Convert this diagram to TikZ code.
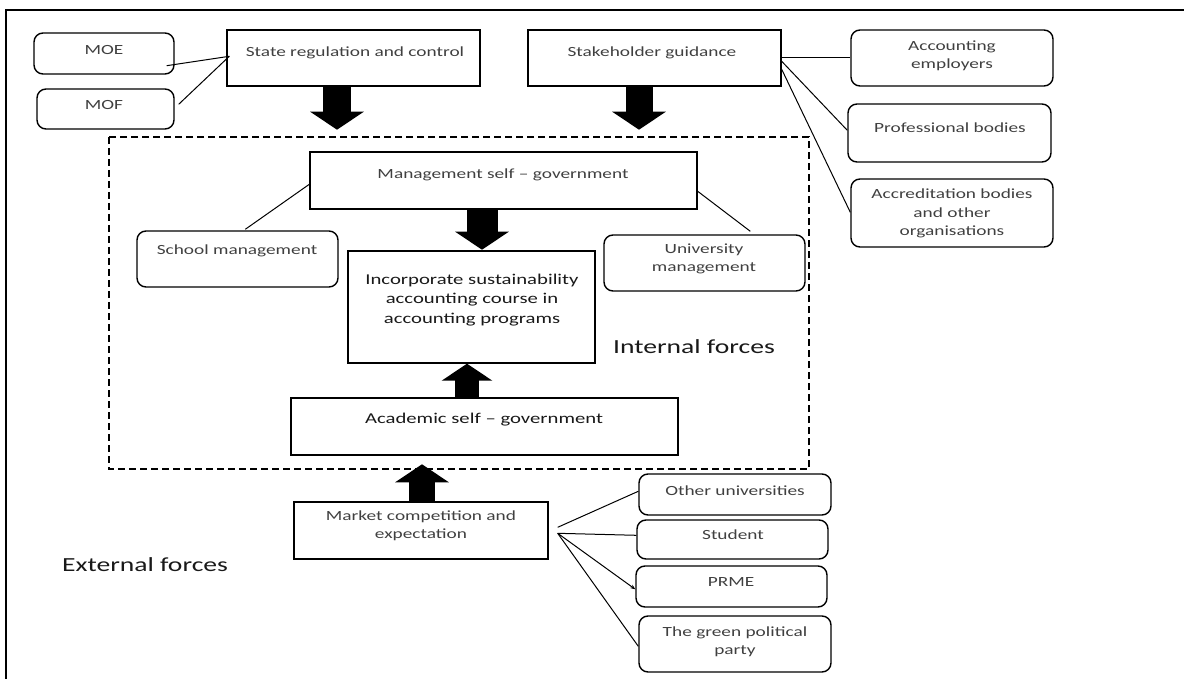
\documentclass[tikz,border=0pt]{standalone}
\usepackage{fontspec}
\setmainfont{Carlito}[FakeStretch=1.38]
\usetikzlibrary{arrows.meta,calc}
\begin{document}
\begin{tikzpicture}[x=1pt,y=-1pt,
  box/.style={draw, line width=1.4pt, inner sep=0pt},
  rbox/.style={box, rounded corners=9pt},
  txt/.style={font=\fontsize{14}{18}\selectfont, text=black!75, align=center, inner sep=0pt},
  mid/.style={font=\fontsize{15}{19.5}\selectfont, text=black!90, align=center, inner sep=0pt},
  big/.style={font=\fontsize{20}{24}\selectfont, text=black!90, inner sep=0pt},
  conn/.style={line width=1pt},
  barrow/.style={line width=#1, -{Triangle[width=53pt,length=18pt]}},
  dashbox/.style={draw, line width=1.2pt, dash pattern=on 7pt off 4pt}
]
\useasboundingbox (0,0) rectangle (1184,679);
% outer frame
\draw[line width=1.3pt] (1184,10) -- (6,10) -- (6,679);

% top left
\node[rbox, minimum width=140pt, minimum height=41pt] (moe) at (104,53.5) {};
\node[txt] (moet) at (104,50) {MOE};
\node[rbox, minimum width=137pt, minimum height=40pt] (mof) at (105.5,109) {};
\node[txt] (moft) at (104,105) {MOF};
\node[box, minimum width=253pt, minimum height=56pt] (state) at (353.5,58) {};
\node[txt] (statet) at (355,53) {State regulation and control};
\node[box, minimum width=253pt, minimum height=56pt] (stake) at (654.5,58) {};
\node[txt] (staket) at (652,53) {Stakeholder guidance};

% right
\node[rbox, minimum width=202pt, minimum height=56pt] (acc) at (952,58) {};
\node[txt] (acct) at (952,56) {Accounting\\employers};
\node[rbox, minimum width=203pt, minimum height=58pt] (prof) at (949.5,133) {};
\node[txt] (proft) at (950,128) {Professional bodies};
\node[rbox, minimum width=202pt, minimum height=68pt] (accr) at (952,213) {};
\node[txt, font=\fontsize{14}{18.5}\selectfont] (accrt) at (952,213.5) {Accreditation bodies\\and other\\organisations};

% internal
\draw[dashbox] (109,137) rectangle (809,469);
\node[box, minimum width=387pt, minimum height=57pt] (mgmt) at (503.5,180.5) {};
\node[txt] (mgmtt) at (503,175) {Management self -- government};
\node[rbox, minimum width=201pt, minimum height=56pt] (school) at (237.5,259) {};
\node[txt] (schoolt) at (237,251) {School management};
\node[rbox, minimum width=201pt, minimum height=56pt] (univ) at (704.5,263) {};
\node[txt] (univt) at (704,259) {University\\management};
\node[box, minimum width=247pt, minimum height=112pt] (incorp) at (471.5,307) {};
\node[mid] (incorpt) at (472,300) {Incorporate sustainability\\accounting course in\\accounting programs};
\node[big] (internal) at (694,347) {Internal forces};
\node[box, minimum width=387pt, minimum height=57pt] (acad) at (484.5,426.5) {};
\node[mid] (acadt) at (484,420) {Academic self -- government};

% external
\node[box, minimum width=254pt, minimum height=57pt] (market) at (421,530.5) {};
\node[txt] (markett) at (421,526) {Market competition and\\expectation};
\node[big] (external) at (145,565) {External forces};
\node[rbox, minimum width=192pt, minimum height=41pt] (other) at (735,494.5) {};
\node[txt] (othert) at (735,491) {Other universities};
\node[rbox, minimum width=191pt, minimum height=39pt] (student) at (732.5,539.5) {};
\node[txt] (studentt) at (733,535) {Student};
\node[rbox, minimum width=191pt, minimum height=41pt] (prme) at (731.5,586.5) {};
\node[txt] (prmet) at (731,582) {PRME};
\node[rbox, minimum width=192pt, minimum height=56pt] (green) at (735,644) {};
\node[txt] (greent) at (735,641.5) {The green political\\party};

% block arrows
\draw[barrow=28pt] ([xshift=-16.5pt]state.south) -- ++(0,43);
\draw[barrow=27pt] ([xshift=-15.5pt]stake.south) -- ++(0,43);
\draw[barrow=31pt] ([xshift=-21.5pt]mgmt.south) -- ++(0,40);
\draw[line width=24pt, -{Triangle[width=50pt,length=17pt]}] ([xshift=-17.5pt]acad.north) -- ([xshift=-4.5pt]incorp.south);
\draw[barrow=26pt] ([xshift=1pt]market.north) -- ++(0,-37);

% thin connectors
\draw[conn] ($(moe.south east)+(-8,-9)$) -- ($(state.north west)+(3,27)$);
\draw[conn] ($(mof.north east)+(4,16)$) -- ($(state.north west)+(3,27)$);
\draw[conn] ($(stake.north east)+(0,28)$) -- ($(acc.north west)+(0,28)$);
\draw[conn] ($(stake.north east)+(0,32)$) -- ($(prof.north west)+(0,27)$);
\draw[conn] ($(stake.north east)+(0,40)$) -- ($(accr.north west)+(0,34)$);
\draw[conn] ($(school.north west)+(109,-1)$) -- ($(mgmt.north west)+(0,33)$);
\draw[conn] ($(mgmt.north east)+(0,40)$) -- ($(univ.north west)+(147,-3)$);
\draw[conn] ($(market.north east)+(9,26)$) -- ($(other.north west)+(0,18)$);
\draw[conn] ($(market.north east)+(9,32)$) -- ($(student.north west)+(0,16)$);
\draw[conn, -{Stealth[length=5pt,width=4pt]}] ($(market.north east)+(9,32)$) -- ($(prme.north west)+(0,24)$);
\draw[conn] ($(market.north east)+(9,32)$) -- ($(green.north west)+(0,31)$);
\end{tikzpicture}
\end{document}
